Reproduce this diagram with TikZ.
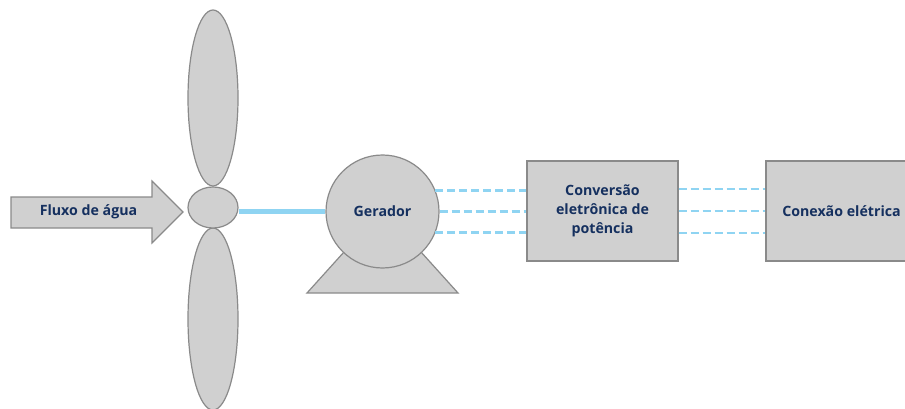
\documentclass[tikz,border=0pt]{standalone}
\usepackage{fontspec}
\setmainfont{Open Sans}
\usetikzlibrary{calc,shapes.geometric}
\definecolor{partgray}{HTML}{D0D0D0}
\definecolor{edgegray}{HTML}{8A8A8A}
\definecolor{labelblue}{HTML}{15305F}
\definecolor{shaftblue}{HTML}{8FD4F2}
\begin{document}
\begin{tikzpicture}[x=1pt,y=-1pt,
  part/.style={fill=partgray,draw=edgegray,line width=1.2pt},
  label/.style={text=labelblue,font=\bfseries\fontsize{14.2}{19}\selectfont,align=center},
  link/.style={draw=shaftblue,line width=2.8pt,dash pattern=on 8pt off 4pt},
  shaft/.style={draw=shaftblue,line width=4.8pt},
  blade/.style={part,ellipse,inner sep=0pt,minimum width=50pt},
  block/.style={part,rectangle,inner sep=0pt,minimum width=151pt,minimum height=100pt,label}]
\useasboundingbox (0,0) rectangle (905,409);
\clip (0,0) rectangle (905,409);

% incoming water flow arrow
\draw[part] (11,197) -- (152,197) -- (152,181) -- (183,212) -- (152,243)
  -- (152,228) -- (11,228) -- cycle;
\node[label] (flow) at (88.5,212) {Fluxo de água};

% turbine: two blades and the hub
\node[blade,minimum height=176pt] (bladeup) at (213,98) {};
\node[blade,minimum height=182pt] (bladedown) at (213,319) {};
\node[blade,minimum height=41pt] (hub) at (213,207.5) {};

% generator with its base
\draw[part] (307,293) -- (353,242) -- (412,242) -- (458,293) -- cycle;
\node[part,circle,inner sep=0pt,minimum size=113pt,label] (gen) at (382.5,211.5) {Gerador};

% mechanical shaft
\draw[shaft] (gen.west -| hub.east) -- (gen.west);

% power electronics and grid connection
\node[block] (conv) at (602.5,211) {Conversão\\eletrônica de\\potência};
\node[block] (conn) at (841.5,211) {Conexão elétrica};

% three-phase links
\draw[link] (gen.22.4) -- (gen.22.4 -| conv.west);
\draw[link] (gen.east) -- (gen.east -| conv.west);
\draw[link] (gen.-22.4) -- (gen.-22.4 -| conv.west);
\foreach \dy in {-22,0,22}
  \draw[link] ($(conv.east)+(0,\dy)$) -- ($(conn.west)+(0,\dy)$);
\end{tikzpicture}
\end{document}
